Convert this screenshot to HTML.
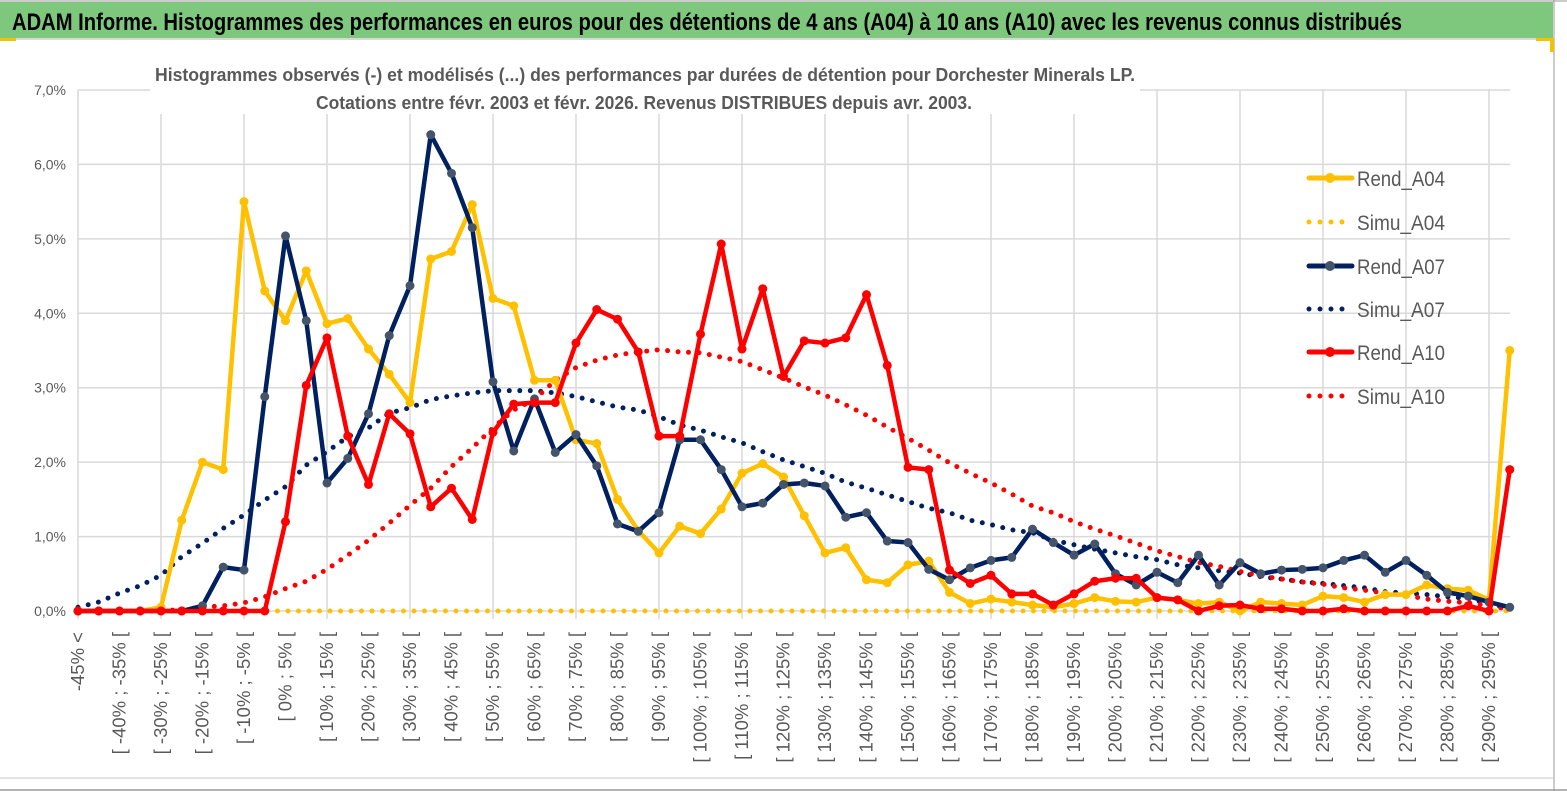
<!DOCTYPE html>
<html><head><meta charset="utf-8"><style>
html,body{margin:0;padding:0;background:#fff;}
svg{display:block;font-family:"Liberation Sans",sans-serif;}
</style></head><body>
<svg id="chart" width="1567" height="791" viewBox="0 0 1567 791" xmlns="http://www.w3.org/2000/svg">
<rect x="0" y="0" width="1567" height="791" fill="#fff"/>
<rect x="0" y="2" width="1553" height="36" fill="#7dc87d"/>
<line x1="0" y1="39" x2="1553" y2="39" stroke="#d8d8d8" stroke-width="2"/>
<line x1="1554" y1="0" x2="1554" y2="791" stroke="#bbb" stroke-width="1.5"/>
<line x1="0" y1="1" x2="1567" y2="1" stroke="#999" stroke-width="1"/>
<rect x="0" y="38" width="16" height="3" fill="#f2c200"/>
<rect x="1550" y="38" width="4" height="14" fill="#f2c200"/>
<rect x="1536" y="38" width="18" height="3" fill="#f2c200"/>
<text x="12" y="30" font-size="24" font-weight="bold" fill="#000" textLength="1390" lengthAdjust="spacingAndGlyphs">ADAM Informe. Histogrammes des performances en euros pour des détentions de 4 ans (A04) à 10 ans (A10) avec les revenus connus distribués</text>
<line x1="0" y1="778" x2="1553" y2="778" stroke="#e3e3e3" stroke-width="2"/>
<line x1="0" y1="790" x2="1567" y2="790" stroke="#999" stroke-width="1.5"/>
<g id="grid"></g>
<g id="ylabels"></g>
<g id="xlabels"></g>
<rect x="150" y="58" width="990" height="56" fill="#fff"/>
<text x="155" y="81" font-size="18" font-weight="bold" fill="#595959" textLength="980" lengthAdjust="spacingAndGlyphs">Histogrammes observés (-) et modélisés (...) des performances par durées de détention pour Dorchester Minerals LP.</text>
<text x="316" y="109" font-size="18" font-weight="bold" fill="#595959" textLength="656" lengthAdjust="spacingAndGlyphs">Cotations entre févr. 2003 et févr. 2026. Revenus DISTRIBUES depuis avr. 2003.</text>
<g id="series"></g>
<g id="legend"></g>
</svg>
<script>
const rendA04=[0,0,0,0,0.05,1.22,2.0,1.9,5.5,4.3,3.9,4.57,3.86,3.93,3.52,3.18,2.8,4.73,4.83,5.46,4.2,4.1,3.1,3.1,2.3,2.25,1.5,1.08,0.78,1.14,1.04,1.37,1.85,1.98,1.8,1.28,0.78,0.85,0.42,0.38,0.62,0.67,0.25,0.1,0.16,0.12,0.08,0.05,0.1,0.18,0.13,0.12,0.18,0.15,0.1,0.12,0.0,0.12,0.1,0.08,0.2,0.18,0.12,0.22,0.22,0.35,0.3,0.28,0.15,3.5];
const simuA04=[0,0,0,0,0,0,0,0,0,0,0,0,0,0,0,0,0,0,0,0,0,0,0,0,0,0,0,0,0,0,0,0,0,0,0,0,0,0,0,0,0,0,0,0,0,0,0,0,0,0,0,0,0,0,0,0,0,0,0,0,0,0,0,0,0,0,0,0,0,0];
const rendA07=[0,0,0,0,0,0,0.07,0.59,0.55,2.88,5.04,3.9,1.72,2.05,2.65,3.7,4.37,6.4,5.88,5.15,3.08,2.15,2.85,2.13,2.37,1.95,1.17,1.07,1.32,2.3,2.3,1.9,1.4,1.45,1.7,1.72,1.68,1.26,1.32,0.94,0.92,0.56,0.42,0.58,0.68,0.72,1.1,0.92,0.75,0.9,0.5,0.35,0.52,0.38,0.75,0.35,0.65,0.5,0.55,0.56,0.58,0.68,0.75,0.52,0.68,0.48,0.25,0.2,0.12,0.05];
const simuA07=[0.05,0.12,0.24,0.34,0.48,0.73,0.91,1.11,1.29,1.49,1.67,1.96,2.14,2.34,2.46,2.66,2.73,2.84,2.89,2.93,2.96,2.96,2.96,2.93,2.88,2.81,2.74,2.7,2.61,2.5,2.43,2.34,2.26,2.14,2.03,1.94,1.85,1.73,1.65,1.56,1.47,1.38,1.32,1.22,1.16,1.09,1.05,0.95,0.89,0.83,0.78,0.73,0.69,0.62,0.58,0.54,0.51,0.46,0.43,0.39,0.37,0.34,0.31,0.26,0.24,0.22,0.19,0.17,0.1,0.03];
const rendA10=[0,0,0,0,0,0,0,0,0,0,1.2,3.03,3.67,2.35,1.7,2.65,2.38,1.4,1.65,1.23,2.4,2.78,2.8,2.8,3.6,4.05,3.92,3.48,2.35,2.35,3.72,4.93,3.52,4.33,3.15,3.63,3.6,3.67,4.25,3.3,1.93,1.9,0.55,0.37,0.48,0.23,0.23,0.08,0.23,0.4,0.44,0.44,0.18,0.15,0.0,0.07,0.08,0.03,0.03,0,0,0.03,0,0,0,0,0,0.07,0,1.9];
const simuA10=[0,0,0,0,0,0.02,0.05,0.07,0.11,0.19,0.3,0.4,0.56,0.75,0.95,1.18,1.42,1.65,1.94,2.19,2.46,2.7,2.84,3.1,3.27,3.37,3.44,3.48,3.51,3.48,3.47,3.41,3.35,3.24,3.13,3.01,2.9,2.77,2.63,2.47,2.32,2.16,1.99,1.85,1.72,1.57,1.41,1.32,1.2,1.1,1.01,0.91,0.81,0.73,0.65,0.6,0.53,0.47,0.43,0.39,0.36,0.31,0.28,0.24,0.21,0.16,0.13,0.11,0.07,0.02];
const yTicks=[0,1,2,3,4,5,6,7];
const yTickLabels=["0,0%","1,0%","2,0%","3,0%","4,0%","5,0%","6,0%","7,0%"];
const categoryLabels=["-45% <"];
for(let i=1;i<70;i++){const a=-45+5*(i-1);categoryLabels.push("[ "+a+"% ; "+(a+5)+"% [");}

const NS="http://www.w3.org/2000/svg";
const X0=78, DX=20.75, Y0=611, PY=74.43;
const xs=i=>X0+i*DX;
const ys=v=>Y0-v*PY;
function mk(tag,attrs,parent){const e=document.createElementNS(NS,tag);for(const k in attrs)e.setAttribute(k,attrs[k]);parent.appendChild(e);return e;}
const grid=document.getElementById('grid');
yTicks.forEach(t=>{
  const l=mk('line',{x1:X0,x2:1510,y1:ys(t),y2:ys(t),stroke:'#d9d9d9','stroke-width':1.5},grid);
  
  
});
for(let i=0;i<70;i+=4){
  const l=mk('line',{x1:xs(i),x2:xs(i),y1:ys(7),y2:Y0+8,stroke:'#d9d9d9','stroke-width':1.5},grid);
  
  
}
const yl=document.getElementById('ylabels');
yTicks.forEach((t,k)=>{
  const e=mk('text',{x:66,y:ys(t)+5,'font-size':14,fill:'#595959','text-anchor':'end'},yl);
  e.textContent=yTickLabels[k];
  
  
});
const xl=document.getElementById('xlabels');
for(let i=0;i<70;i+=2){
  const x=xs(i)+6, y=632;
  const e=mk('text',{x:x,y:y,'font-size':18.5,fill:'#595959','text-anchor':'end',transform:`rotate(-90 ${x} ${y})`},xl);
  e.textContent=categoryLabels[i];
  
  
}
const sg=document.getElementById('series');
function dotted(arr,color,name){
  const d=arr.map((v,i)=>(i?'L':'M')+xs(i)+' '+ys(v)).join(' ');
  const p=mk('path',{d:d,fill:'none',stroke:color,'stroke-width':5,'stroke-linecap':'round','stroke-dasharray':'0 10.5'},sg);
  
  
}
function solid(arr,color,mcolor,name){
  const d=arr.map((v,i)=>(i?'L':'M')+xs(i)+' '+ys(v)).join(' ');
  const p=mk('path',{d:d,fill:'none',stroke:color,'stroke-width':4.5,'stroke-linejoin':'round'},sg);
  
  
  arr.forEach((v,i)=>{
    const c=mk('circle',{cx:xs(i),cy:ys(v),r:4.5,fill:mcolor},sg);
    
    
  });
}
dotted(simuA04,'#ffc000','simu-a04-line');
dotted(simuA07,'#002060','simu-a07-line');
dotted(simuA10,'#ff0000','simu-a10-line');
solid(rendA04,'#ffc000','#ffc000','rend-a04-line');
solid(rendA07,'#002060','#44546a','rend-a07-line');
solid(rendA10,'#ff0000','#ff0000','rend-a10-line');

const lg=document.getElementById('legend');
const legendNames=["Rend_A04","Simu_A04","Rend_A07","Simu_A07","Rend_A10","Simu_A10"];
const legendColors=["#ffc000","#ffc000","#002060","#002060","#ff0000","#ff0000"];
const legendMarker=["#ffc000",null,"#44546a",null,"#ff0000",null];
const legendY=[178,222,266,309,352,396];
legendNames.forEach((n,k)=>{
  const g=mk('g',{},lg);
  
  
  const y=legendY[k];
  if(legendMarker[k]){
    mk('line',{x1:1309,x2:1352,y1:y,y2:y,stroke:legendColors[k],'stroke-width':5,'stroke-linecap':'round'},g);
    mk('circle',{cx:1330,cy:y,r:5,fill:legendMarker[k]},g);
  }else{
    mk('line',{x1:1309,x2:1352,y1:y,y2:y,stroke:legendColors[k],'stroke-width':5,'stroke-linecap':'round','stroke-dasharray':'0 11'},g);
  }
  const t=mk('text',{x:1357,y:y+8,'font-size':21,fill:'#595959','textLength':88,'lengthAdjust':'spacingAndGlyphs'},g);
  t.textContent=n;
});
</script>
</body></html>
